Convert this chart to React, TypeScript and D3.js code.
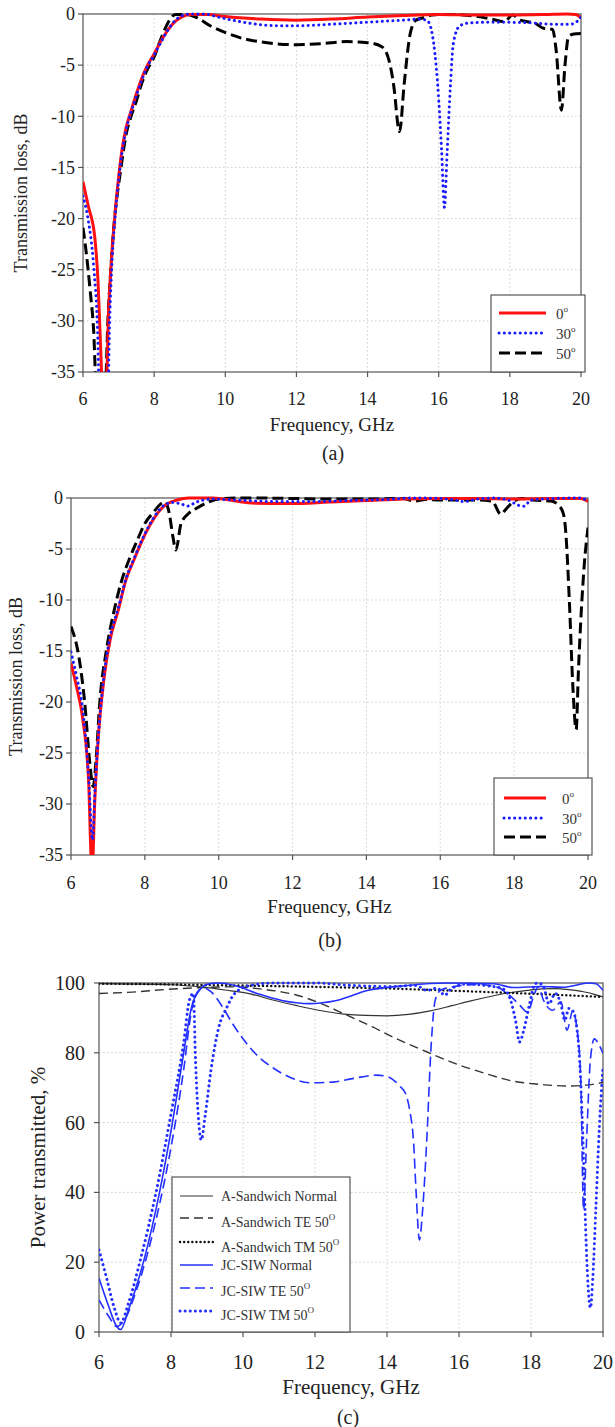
import React from "react";
import * as d3 from "d3";

type Pt = [number, number];

// ---------- Panel (a) : transmission loss, dB ----------
const aLoss0: Pt[] = [[6.0,-16.4],[6.15,-18.8],[6.33,-21.8],[6.42,-26],[6.5,-33],[6.55,-37],[6.65,-37],[6.72,-29],[6.8,-24],[6.9,-19.5],[7.0,-16],[7.1,-13.2],[7.2,-11.3],[7.35,-9.5],[7.5,-7.8],[7.65,-6.3],[7.8,-5.1],[8.0,-3.9],[8.2,-2.6],[8.4,-1.5],[8.6,-0.7],[8.8,-0.25],[9.0,-0.05],[9.5,-0.05],[10,-0.25],[11,-0.5],[12,-0.6],[13,-0.5],[14,-0.3],[15,-0.15],[16,-0.05],[17,-0.1],[18,-0.1],[19,-0.05],[19.6,0],[19.85,-0.05],[20,-0.4]];
const aLoss30: Pt[] = [[6.0,-17.8],[6.13,-19.8],[6.3,-24.7],[6.41,-31],[6.46,-37],[6.7,-37],[6.75,-30],[6.82,-24],[6.9,-20],[7.0,-16.3],[7.1,-13.5],[7.2,-11.5],[7.35,-9.6],[7.5,-8],[7.65,-6.5],[7.8,-5.2],[8.0,-4.0],[8.2,-2.7],[8.4,-1.5],[8.6,-0.6],[8.8,-0.15],[9.0,0],[9.4,0],[9.8,-0.3],[10.5,-0.8],[11.5,-1.15],[12.0,-1.15],[13,-1.0],[14,-0.8],[15,-0.6],[15.5,-0.5],[15.69,-0.7],[15.86,-2.9],[16.0,-8.4],[16.08,-13.3],[16.16,-18.9],[16.24,-13.3],[16.33,-7],[16.41,-2.9],[16.58,-1.2],[16.8,-0.9],[17.5,-0.8],[18.5,-0.85],[19.2,-1.0],[19.7,-1.0],[19.9,-0.7],[20,-0.3]];
const aLoss50: Pt[] = [[6.0,-20.9],[6.08,-23],[6.2,-27],[6.3,-31],[6.38,-37],[6.62,-37],[6.7,-30],[6.78,-25],[6.85,-21.5],[6.95,-18],[7.05,-15.5],[7.2,-12],[7.35,-10],[7.5,-8.5],[7.65,-6.8],[7.8,-5.5],[8.0,-4.2],[8.15,-2.8],[8.3,-1.5],[8.45,-0.5],[8.6,-0.05],[8.9,-0.05],[9.17,-0.3],[9.6,-1.2],[10.06,-1.9],[10.5,-2.4],[10.94,-2.7],[11.4,-2.9],[12.0,-3.0],[12.7,-2.9],[13.4,-2.7],[14.0,-2.8],[14.4,-3.2],[14.6,-4.5],[14.75,-7.4],[14.86,-11.0],[14.9,-11.5],[15.03,-6.8],[15.2,-1.9],[15.36,-0.6],[15.64,-0.3],[15.8,-0.1],[16.0,-0.05],[16.5,-0.05],[17.0,-0.2],[17.5,-0.5],[17.85,-0.75],[18.07,-0.1],[18.3,-0.6],[18.5,-0.75],[18.7,-0.9],[18.95,-1.4],[19.2,-1.5],[19.3,-3.5],[19.45,-9.4],[19.55,-5],[19.65,-2.2],[19.8,-1.95],[20,-1.9]];

// ---------- Panel (b) : transmission loss, dB ----------
const bLoss0: Pt[] = [[6.0,-16.2],[6.15,-18.5],[6.32,-21.7],[6.48,-28],[6.55,-35.5],[6.58,-36],[6.64,-30],[6.74,-23.4],[6.9,-17.5],[7.06,-13.9],[7.28,-11],[7.49,-8],[7.7,-6.1],[7.91,-4.3],[8.13,-2.7],[8.34,-1.5],[8.55,-0.7],[8.87,-0.2],[9.19,0],[9.83,0],[10.9,-0.5],[11.95,-0.55],[13.0,-0.4],[14,-0.25],[15,-0.1],[16,-0.05],[17,-0.05],[18,-0.1],[19,-0.05],[19.8,-0.05],[20,-0.35]];
const bLoss30: Pt[] = [[6.0,-15.1],[6.15,-17.5],[6.32,-20.8],[6.48,-27.5],[6.58,-33.5],[6.66,-28],[6.76,-22.5],[6.9,-17.2],[7.06,-13.6],[7.28,-10.8],[7.49,-7.9],[7.7,-6.0],[7.91,-4.2],[8.13,-2.6],[8.34,-1.4],[8.55,-0.65],[8.75,-0.45],[9.0,-0.6],[9.15,-0.8],[9.4,-0.4],[9.8,-0.1],[10.5,-0.2],[11.5,-0.35],[12.5,-0.35],[13.5,-0.25],[14.5,-0.15],[15.3,0],[16,-0.05],[16.4,-0.2],[16.65,-0.35],[17.0,-0.1],[17.5,0],[17.9,-0.3],[18.1,-0.7],[18.28,-0.8],[18.45,-0.2],[19,-0.05],[19.8,0],[20,-0.3]];
const bLoss50: Pt[] = [[6.0,-12.6],[6.21,-15.5],[6.37,-20],[6.51,-26],[6.6,-28.3],[6.68,-25.6],[6.78,-20],[6.96,-14.9],[7.17,-11],[7.38,-8],[7.6,-5.8],[7.8,-4.1],[8.0,-2.5],[8.23,-1.4],[8.44,-0.55],[8.55,-0.35],[8.66,-1.5],[8.76,-3.8],[8.84,-5.1],[8.98,-2.5],[9.19,-1.5],[9.4,-1.0],[9.72,-0.4],[10.04,-0.07],[10.5,0],[11,0],[12,-0.05],[13,-0.1],[14,-0.1],[15,-0.05],[15.3,-0.3],[15.6,-0.15],[16,-0.2],[16.5,-0.2],[17,-0.2],[17.4,-0.3],[17.64,-1.6],[17.8,-1.0],[18.0,-0.3],[18.2,-0.05],[18.5,-0.2],[19.0,-0.3],[19.2,-0.7],[19.33,-1.5],[19.39,-3.0],[19.5,-10.5],[19.59,-18.5],[19.68,-22.7],[19.74,-17],[19.82,-11],[19.9,-6.5],[20,-2.9]];

// ---------- Panel (c) : power transmitted, % ----------
const cSandNormal: Pt[] = [[6,99.8],[7,99.7],[8,99.5],[8.89,98.8],[9.5,98],[10.2,96.9],[10.8,95.2],[11.5,93.5],[12.1,92.2],[12.8,91.1],[13.4,90.7],[14.0,90.6],[14.6,91],[15.2,92.0],[15.8,93.5],[16.3,94.8],[16.9,96.2],[17.4,97.2],[17.9,97.9],[18.3,98.3],[18.7,98.4],[19.05,98.1],[19.4,97.6],[19.6,97.2],[19.8,96.6],[20,96.0]];
const cSandTE: Pt[] = [[6,97.0],[6.93,97.4],[7.8,98.1],[8.89,98.7],[9.77,98.9],[10.64,98.1],[11.1,97.4],[11.5,96.5],[12.17,94.1],[12.8,91.2],[13.6,87.4],[14.35,83.6],[15.1,80.3],[15.9,76.9],[16.76,74.0],[17.4,72.1],[18.2,71.0],[19.05,70.5],[19.6,70.8],[20,71.5]];
const cSandTM: Pt[] = [[6,99.8],[8,99.6],[9.77,99.3],[12,98.9],[14.1,98.4],[16.3,97.6],[18.5,96.7],[20,96.0]];
const cJcNormal: Pt[] = [[6,15.4],[6.27,7.3],[6.49,1.6],[6.6,0.7],[6.82,6.4],[7.15,16.9],[7.58,35],[8.02,58.8],[8.35,79.8],[8.57,93.1],[8.79,97.9],[9.0,99.6],[9.33,100],[9.77,99.3],[10.42,96.9],[11.08,95],[11.84,94.1],[12.6,95],[13.48,97.9],[14.57,99.3],[15.66,100],[16.97,99.8],[17.5,98.7],[18.29,99],[18.94,98.8],[19.3,99.5],[19.6,100],[19.8,99.8],[20,97.9]];
const cJcTE: Pt[] = [[6,9.2],[6.27,4.5],[6.49,1.6],[6.71,3.5],[7.04,12],[7.58,32],[8.02,54],[8.35,75],[8.57,92],[8.73,97.4],[8.89,98.7],[9.11,97.5],[9.44,93],[9.7,88.5],[10.0,84],[10.42,79],[10.86,75.5],[11.3,73],[11.84,71.4],[12.5,71.6],[13.04,72.6],[13.7,73.6],[14.03,73.1],[14.35,70.5],[14.52,68.2],[14.63,63.6],[14.74,54.1],[14.81,39.8],[14.9,26.4],[14.99,35],[15.1,54.1],[15.23,82.7],[15.34,95.1],[15.5,98],[15.88,99],[16.5,99.6],[17.0,99],[17.4,96.5],[17.7,93.5],[17.9,91.7],[18.1,97],[18.2,99],[18.35,95],[18.6,92.2],[18.83,94.6],[19.0,86.5],[19.16,92],[19.27,87.4],[19.38,73],[19.46,35],[19.54,54],[19.65,78],[19.76,84],[19.87,82.7],[20,79.8]];
const cJcTM: Pt[] = [[6,23.5],[6.2,15.9],[6.44,6.4],[6.6,2.6],[6.82,8.3],[7.15,20.7],[7.58,39.8],[8.02,63.6],[8.35,82.7],[8.51,95],[8.62,97],[8.68,78],[8.78,59],[8.84,55],[8.95,62],[9.11,75],[9.33,87.4],[9.55,93],[9.77,97],[10.2,99.3],[10.86,100],[12,100],[13,99.3],[14.1,99],[14.8,99.3],[15.1,97.9],[15.4,98.5],[15.6,96.5],[15.8,98.5],[16.2,99.7],[16.8,99.2],[17.2,98.4],[17.4,96],[17.57,89.3],[17.68,83.1],[17.8,86.5],[17.96,94],[18.12,99.8],[18.2,100],[18.35,98.9],[18.5,94],[18.67,97],[18.83,94],[18.94,89.3],[19.05,92.7],[19.16,92],[19.27,87.4],[19.35,77.9],[19.43,58.8],[19.5,35],[19.57,16],[19.65,6.9],[19.72,16],[19.8,35],[19.9,58.8],[20,76]];

// ---------- ticks and labels ----------
const freqTicks = [6, 8, 10, 12, 14, 16, 18, 20];
const lossTicks = [0, -5, -10, -15, -20, -25, -30, -35];
const powerTicks = [0, 20, 40, 60, 80, 100];
const angleLabels = ["0", "30", "50"];
const cLegendLabels = ["A-Sandwich Normal", "A-Sandwich TE 50", "A-Sandwich TM 50", "JC-SIW Normal", "JC-SIW TE 50", "JC-SIW TM 50"];

const FONT = "'Liberation Serif', 'Times New Roman', serif";
const FRAME = "#555";
const GRID = "#cfcfcf";

type Style = { color: string; width: number; dash?: string; cap?: string };

const angleStyles: Style[] = [
  { color: "#ff1010", width: 3 },
  { color: "#1a1aff", width: 3, dash: "0.1,5.2", cap: "round" },
  { color: "#000000", width: 3, dash: "11,5" },
];

const cStyles: Style[] = [
  { color: "#333333", width: 1.2 },
  { color: "#333333", width: 1.4, dash: "9,5" },
  { color: "#111111", width: 2.4, dash: "0.1,4", cap: "round" },
  { color: "#2330ff", width: 1.6 },
  { color: "#2330ff", width: 1.6, dash: "10,5" },
  { color: "#2330ff", width: 3, dash: "0.1,5", cap: "round" },
];

type PanelProps = {
  id: string;
  left: number; right: number; top: number; bottom: number;
  yDomain: [number, number];
  yTicks: number[];
  series: Pt[][];
  styles: Style[];
  tickFont: number;
  yTitle: string; yTitleX: number; yTitleFont: number;
  xTitleY: number; xTitleFont: number; xTickY: number;
  caption: string; captionY: number; captionX: number;
  yLabelX: number;
  topLine?: boolean;
  children?: React.ReactNode;
};

function Panel(p: PanelProps) {
  const x = d3.scaleLinear().domain([6, 20]).range([p.left, p.right]);
  const y = d3.scaleLinear().domain(p.yDomain).range([p.bottom, p.top]);
  const line = d3.line<Pt>().x((d) => x(d[0])).y((d) => y(d[1])).curve(d3.curveMonotoneX);
  const cx = (p.left + p.right) / 2;
  return (
    <g>
      <defs>
        <clipPath id={"clip-" + p.id}>
          <rect x={p.left} y={p.top - 2} width={p.right - p.left} height={p.bottom - p.top + 2} />
        </clipPath>
      </defs>
      {/* grid */}
      {freqTicks.slice(1, -1).map((t) => (
        <line key={"gx" + t} x1={x(t)} x2={x(t)} y1={p.top} y2={p.bottom} stroke={GRID} strokeWidth={1} strokeDasharray="1.5,2.5" />
      ))}
      {p.yTicks.filter((t) => t !== p.yDomain[0] && t !== p.yDomain[1]).map((t) => (
        <line key={"gy" + t} x1={p.left} x2={p.right} y1={y(t)} y2={y(t)} stroke={GRID} strokeWidth={1} strokeDasharray="1.5,2.5" />
      ))}
      {/* frame */}
      <rect x={p.left} y={p.top} width={p.right - p.left} height={p.bottom - p.top} fill="none" stroke={FRAME} strokeWidth={1.2} />
      {/* ticks */}
      {freqTicks.map((t) => (
        <line key={"tx" + t} x1={x(t)} x2={x(t)} y1={p.bottom} y2={p.bottom + 5} stroke={FRAME} strokeWidth={1.2} />
      ))}
      {p.yTicks.map((t) => (
        <line key={"ty" + t} x1={p.left - 5} x2={p.left} y1={y(t)} y2={y(t)} stroke={FRAME} strokeWidth={1.2} />
      ))}
      {/* tick labels */}
      {freqTicks.map((t) => (
        <text key={"lx" + t} x={x(t)} y={p.xTickY} textAnchor="middle" fontFamily={FONT} fontSize={p.tickFont} fill="#222">{t}</text>
      ))}
      {p.yTicks.map((t) => (
        <text key={"ly" + t} x={p.yLabelX} y={y(t)} dy="0.35em" textAnchor="end" fontFamily={FONT} fontSize={p.tickFont} fill="#222">{t}</text>
      ))}
      {/* series */}
      <g clipPath={`url(#clip-${p.id})`}>
        {p.series.map((s, i) => {
          const st = p.styles[i];
          return (
            <path key={"s" + i} d={line(s) || ""} fill="none" stroke={st.color} strokeWidth={st.width}
              strokeDasharray={st.dash} strokeLinecap={(st.cap as any) || "butt"} strokeLinejoin="round" />
          );
        })}
      </g>
      {/* titles */}
      <text x={cx} y={p.xTitleY} textAnchor="middle" fontFamily={FONT} fontSize={p.xTitleFont} fill="#222">Frequency, GHz</text>
      <text x={p.captionX} y={p.captionY} textAnchor="middle" fontFamily={FONT} fontSize={20} fill="#222">{p.caption}</text>
      <text transform={`translate(${p.yTitleX},${(p.top + p.bottom) / 2}) rotate(-90)`} textAnchor="middle" dy="0.35em"
        fontFamily={FONT} fontSize={p.yTitleFont} fill="#222">{p.yTitle}</text>
      {p.children}
    </g>
  );
}

function AngleLegend({ x0, x1, y0, y1, rows, lineX0, lineX1, textX }: { x0: number; x1: number; y0: number; y1: number; rows: number[]; lineX0: number; lineX1: number; textX: number }) {
  return (
    <g>
      <rect x={x0} y={y0} width={x1 - x0} height={y1 - y0} fill="#fff" stroke={FRAME} strokeWidth={1.2} />
      {angleLabels.map((lab, i) => {
        const st = angleStyles[i];
        return (
          <g key={lab}>
            <line x1={lineX0} x2={lineX1} y1={rows[i]} y2={rows[i]} stroke={st.color} strokeWidth={st.width}
              strokeDasharray={st.dash} strokeLinecap={(st.cap as any) || "butt"} />
            <text x={textX} y={rows[i] + 6} fontFamily={FONT} fontSize={15} fill="#333">
              {lab}<tspan fontSize={9} dy={-7}>o</tspan>
            </text>
          </g>
        );
      })}
    </g>
  );
}

export default function App() {
  const cRowsLine = [1196, 1218, 1242, 1265, 1288, 1311];
  const cRowsText = [1196, 1222, 1247, 1265, 1291, 1315];
  return (
    <svg width={615} height={1427} style={{ position: "absolute", left: 0, top: 0, background: "#fff" }}>
      <rect x={0} y={0} width={615} height={1427} fill="#fff" />
      <Panel id="a" left={83} right={581} top={14} bottom={372} yDomain={[-35, 0]} yTicks={lossTicks}
        series={[aLoss50, aLoss0, aLoss30]} styles={[angleStyles[2], angleStyles[0], angleStyles[1]]}
        tickFont={18} yTitle="Transmission loss, dB" yTitleX={21} yTitleFont={18}
        xTitleY={431} xTitleFont={19} xTickY={405} caption="(a)" captionY={460} captionX={333} yLabelX={75}>
        <AngleLegend x0={491} x1={585} y0={295} y1={372} rows={[313, 333, 353]} lineX0={499} lineX1={546} textX={556} />
      </Panel>
      <Panel id="b" left={71} right={588} top={498} bottom={855} yDomain={[-35, 0]} yTicks={lossTicks}
        series={[bLoss50, bLoss0, bLoss30]} styles={[angleStyles[2], angleStyles[0], angleStyles[1]]}
        tickFont={18} yTitle="Transmission loss, dB" yTitleX={16} yTitleFont={18}
        xTitleY={913} xTitleFont={19} xTickY={889} caption="(b)" captionY={947} captionX={330} yLabelX={63}>
        <AngleLegend x0={494} x1={592} y0={778} y1={855} rows={[798, 818, 837]} lineX0={504} lineX1={546} textX={562} />
      </Panel>
      <Panel id="c" left={99} right={603} top={983} bottom={1332} yDomain={[0, 100]} yTicks={powerTicks}
        series={[cSandNormal, cSandTE, cSandTM, cJcNormal, cJcTE, cJcTM]} styles={cStyles}
        tickFont={20} yTitle="Power transmitted, %" yTitleX={38} yTitleFont={21}
        xTitleY={1394} xTitleFont={21} xTickY={1369} caption="(c)" captionY={1424} captionX={348} yLabelX={85}>
        <g>
          <rect x={172} y={1177} width={350 - 172} height={1332 - 1177} fill="#fff" stroke={FRAME} strokeWidth={1.2} />
          {cLegendLabels.map((lab, i) => {
            const st = cStyles[i];
            const sup = lab.endsWith("50");
            return (
              <g key={lab}>
                <line x1={180} x2={213} y1={cRowsLine[i]} y2={cRowsLine[i]} stroke={st.color} strokeWidth={st.width}
                  strokeDasharray={st.dash} strokeLinecap={(st.cap as any) || "butt"} />
                <text x={221} y={cRowsText[i] + 5} fontFamily={FONT} fontSize={14} fill="#333">
                  {lab}{sup ? <tspan fontSize={9} dy={-7}>O</tspan> : null}
                </text>
              </g>
            );
          })}
        </g>
      </Panel>
    </svg>
  );
}
